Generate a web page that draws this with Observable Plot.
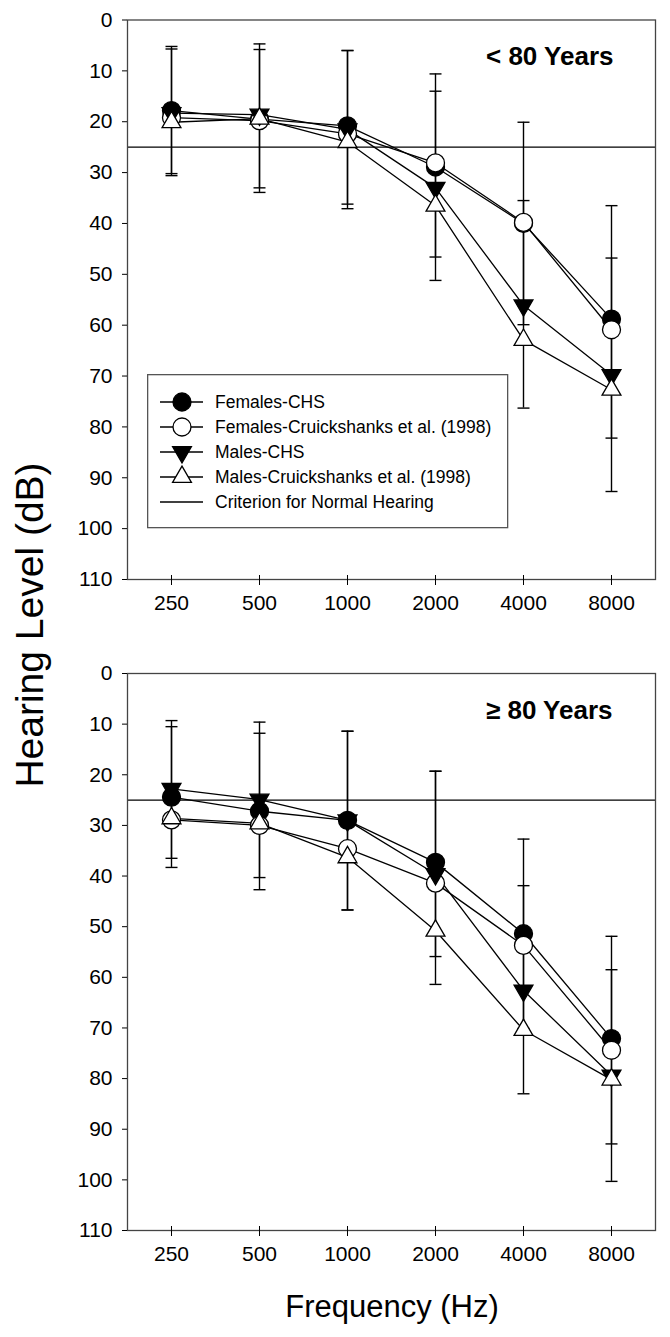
<!DOCTYPE html>
<html><head><meta charset="utf-8">
<script src="https://cdn.jsdelivr.net/npm/d3@7"></script>
<script src="https://cdn.jsdelivr.net/npm/@observablehq/plot@0.6"></script>
<style>
body{margin:0;background:#fff;}
#wrap{position:relative;width:670px;height:1337px;font-family:"Liberation Sans",Arial,sans-serif;background:#fff;overflow:hidden;color:#000;}
.panel{position:absolute;left:0;}
#ylab{position:absolute;left:29px;top:625px;transform:translate(-50%,-50%) rotate(-90deg);font-size:39px;white-space:nowrap;line-height:1;}
#xlab{position:absolute;left:392px;top:1306px;transform:translate(-50%,-50%);font-size:31px;white-space:nowrap;line-height:1;}
#legend{position:absolute;left:147px;top:374px;}
</style></head>
<body><div id="wrap">
<div class="panel" id="top" style="top:0"></div>
<div class="panel" id="bottom" style="top:650px"></div>
<div id="legend"></div>
<div id="ylab">Hearing Level (dB)</div>
<div id="xlab">Frequency (Hz)</div>
</div>
<script>
// ---------- data ----------
const freqs = [250, 500, 1000, 2000, 4000, 8000];
const yTicks = [0, 10, 20, 30, 40, 50, 60, 70, 80, 90, 100, 110];
const seriesNames = ["Females-CHS", "Females-Cruickshanks et al. (1998)", "Males-CHS", "Males-Cruickshanks et al. (1998)"];
const criterionLabel = "Criterion for Normal Hearing";
const criterionLevel = [25];
const titleUnder80 = "< 80 Years";
const titleOver80 = "\u2265 80 Years";

// < 80 years: mean hearing level (dB)
const femCHS_u80   = [17.8, 19.5, 20.8, 28.9, 40.0, 58.8];
const femCruick_u80 = [19.2, 19.8, 22.4, 28.1, 39.8, 60.9];
const maleCHS_u80  = [18.3, 18.6, 21.5, 33.0, 56.1, 69.8];
const maleCruick_u80 = [20.1, 19.4, 24.0, 36.5, 62.9, 72.7];
// < 80 years: error bar ends for CHS series
const femCHS_u80_lo = [5.2, 4.7, 6.0, 10.6, 20.1, 36.5];
const femCHS_u80_hi = [30.2, 33.9, 36.2, 46.6, 59.9, 82.2];
const maleCHS_u80_lo = [5.7, 5.8, 6.0, 14.0, 35.5, 46.8];
const maleCHS_u80_hi = [30.6, 33.0, 37.1, 51.2, 76.3, 92.7];

// >= 80 years
const femCHS_o80   = [24.4, 27.2, 29.0, 37.3, 51.4, 72.1];
const femCruick_o80 = [28.9, 30.0, 34.6, 41.4, 53.7, 74.4];
const maleCHS_o80  = [22.8, 24.9, 29.0, 39.6, 62.6, 79.4];
const maleCruick_o80 = [28.6, 29.6, 36.3, 50.8, 70.4, 80.2];
const femCHS_o80_lo = [10.5, 11.8, 11.4, 19.3, 32.7, 51.9];
const femCHS_o80_hi = [38.3, 42.7, 46.7, 55.9, 70.1, 92.9];
const maleCHS_o80_lo = [9.3, 9.6, 11.4, 19.3, 41.9, 58.5];
const maleCHS_o80_hi = [36.5, 40.3, 46.7, 61.4, 83.0, 100.3];

// ---------- symbols ----------
const sqrt3 = Math.sqrt(3);
const triangleDown = {draw(ctx, size) {
  const y = Math.sqrt(size / (sqrt3 * 3));
  ctx.moveTo(0, y * 2); ctx.lineTo(-sqrt3 * y, -y); ctx.lineTo(sqrt3 * y, -y); ctx.closePath();
}};
const capSymbol = {draw(ctx, size) { ctx.moveTo(-6, 0); ctx.lineTo(6, 0); }};
const seriesStyle = [
  {symbol: "circle", fill: "black", r: 9},
  {symbol: "circle", fill: "white", r: 9},
  {symbol: triangleDown, fill: "black", r: 7},
  {symbol: "triangle", fill: "white", r: 7}
];

function panel({title, means, errs, height, marginTop, marginBottom, titleDx, titleDy}) {
  const rows = [];
  means.forEach((vals, s) => vals.forEach((v, i) => rows.push({freq: freqs[i], value: v, series: seriesNames[s], s})));
  const errRows = [];
  errs.forEach(([lo, hi], s) => lo.forEach((l, i) => errRows.push({freq: freqs[i], lo: l, hi: hi[i]})));
  const capRows = errRows.flatMap(d => [{freq: d.freq, v: d.lo}, {freq: d.freq, v: d.hi}]);
  const marks = [
    Plot.ruleY(criterionLevel, {stroke: "black", strokeWidth: 1.3}),
    Plot.line(rows, {x: "freq", y: "value", z: "series", stroke: "black", strokeWidth: 1.3}),
    Plot.ruleX(errRows, {x: "freq", y1: "lo", y2: "hi", stroke: "black", strokeWidth: 1.4}),
    Plot.dot(capRows, {x: "freq", y: "v", symbol: capSymbol, fill: "none", stroke: "black", strokeWidth: 1.4, r: 4})
  ];
  seriesNames.forEach((name, s) => {
    const st = seriesStyle[s];
    marks.push(Plot.dot(rows.filter(d => d.s === s), {x: "freq", y: "value", symbol: st.symbol, fill: st.fill, stroke: "black", strokeWidth: 1.3, r: st.r}));
  });
  marks.push(
    Plot.frame({stroke: "#444", strokeWidth: 1.3}),
    Plot.axisY({ticks: yTicks, tickSize: 5, tickPadding: 10, label: null, fontSize: 21}),
    Plot.axisX({ticks: freqs, tickFormat: d => String(d), tickSize: 10, dy: -4, tickPadding: 10, label: null, fontSize: 21}),
    Plot.text([title], {text: d => d, frameAnchor: "top-right", dx: titleDx, dy: titleDy, textAnchor: "end", lineAnchor: "middle", fontSize: 26, fontWeight: "bold"})
  );
  return Plot.plot({
    width: 670, height, marginLeft: 127, marginRight: 15, marginTop, marginBottom,
    style: {fontFamily: "'Liberation Sans', Arial, sans-serif", fontSize: "21px", background: "white", color: "black"},
    x: {type: "log", base: 2, domain: [250 / Math.SQRT2, 8000 * Math.SQRT2], label: null},
    y: {domain: [0, 110], reverse: true, label: null},
    marks
  });
}

document.getElementById("top").append(panel({
  title: titleUnder80,
  means: [femCHS_u80, femCruick_u80, maleCHS_u80, maleCruick_u80],
  errs: [[femCHS_u80_lo, femCHS_u80_hi], [maleCHS_u80_lo, maleCHS_u80_hi]],
  height: 650, marginTop: 19.5, marginBottom: 71, titleDx: -42, titleDy: 36.5
}));
document.getElementById("bottom").append(panel({
  title: titleOver80,
  means: [femCHS_o80, femCruick_o80, maleCHS_o80, maleCruick_o80],
  errs: [[femCHS_o80_lo, femCHS_o80_hi], [maleCHS_o80_lo, maleCHS_o80_hi]],
  height: 687, marginTop: 23, marginBottom: 107, titleDx: -43, titleDy: 37
}));

// ---------- legend ----------
const lg = d3.select("#legend").append("svg").attr("width", 362).attr("height", 156)
  .style("font-family", "'Liberation Sans', Arial, sans-serif");
lg.append("rect").attr("x", 0.65).attr("y", 0.65).attr("width", 360).attr("height", 153)
  .attr("fill", "white").attr("stroke", "#555").attr("stroke-width", 1.3);
const legendItems = seriesNames.map((n, i) => ({name: n, st: seriesStyle[i]})).concat([{name: criterionLabel, st: null}]);
legendItems.forEach((it, i) => {
  const y = 28 + 25 * i;
  lg.append("line").attr("x1", 13).attr("x2", 56).attr("y1", y).attr("y2", y).attr("stroke", "black").attr("stroke-width", 1.3);
  if (it.st) {
    const type = it.st.symbol === "circle" ? d3.symbolCircle : it.st.symbol === "triangle" ? d3.symbolTriangle : it.st.symbol;
    lg.append("path").attr("transform", `translate(35,${y})`)
      .attr("d", d3.symbol(type, Math.PI * it.st.r * it.st.r)())
      .attr("fill", it.st.fill).attr("stroke", "black").attr("stroke-width", 1.3);
  }
  lg.append("text").attr("x", 68).attr("y", y).attr("dy", "0.35em").attr("font-size", 17.5).text(it.name);
});
</script>
</body></html>
